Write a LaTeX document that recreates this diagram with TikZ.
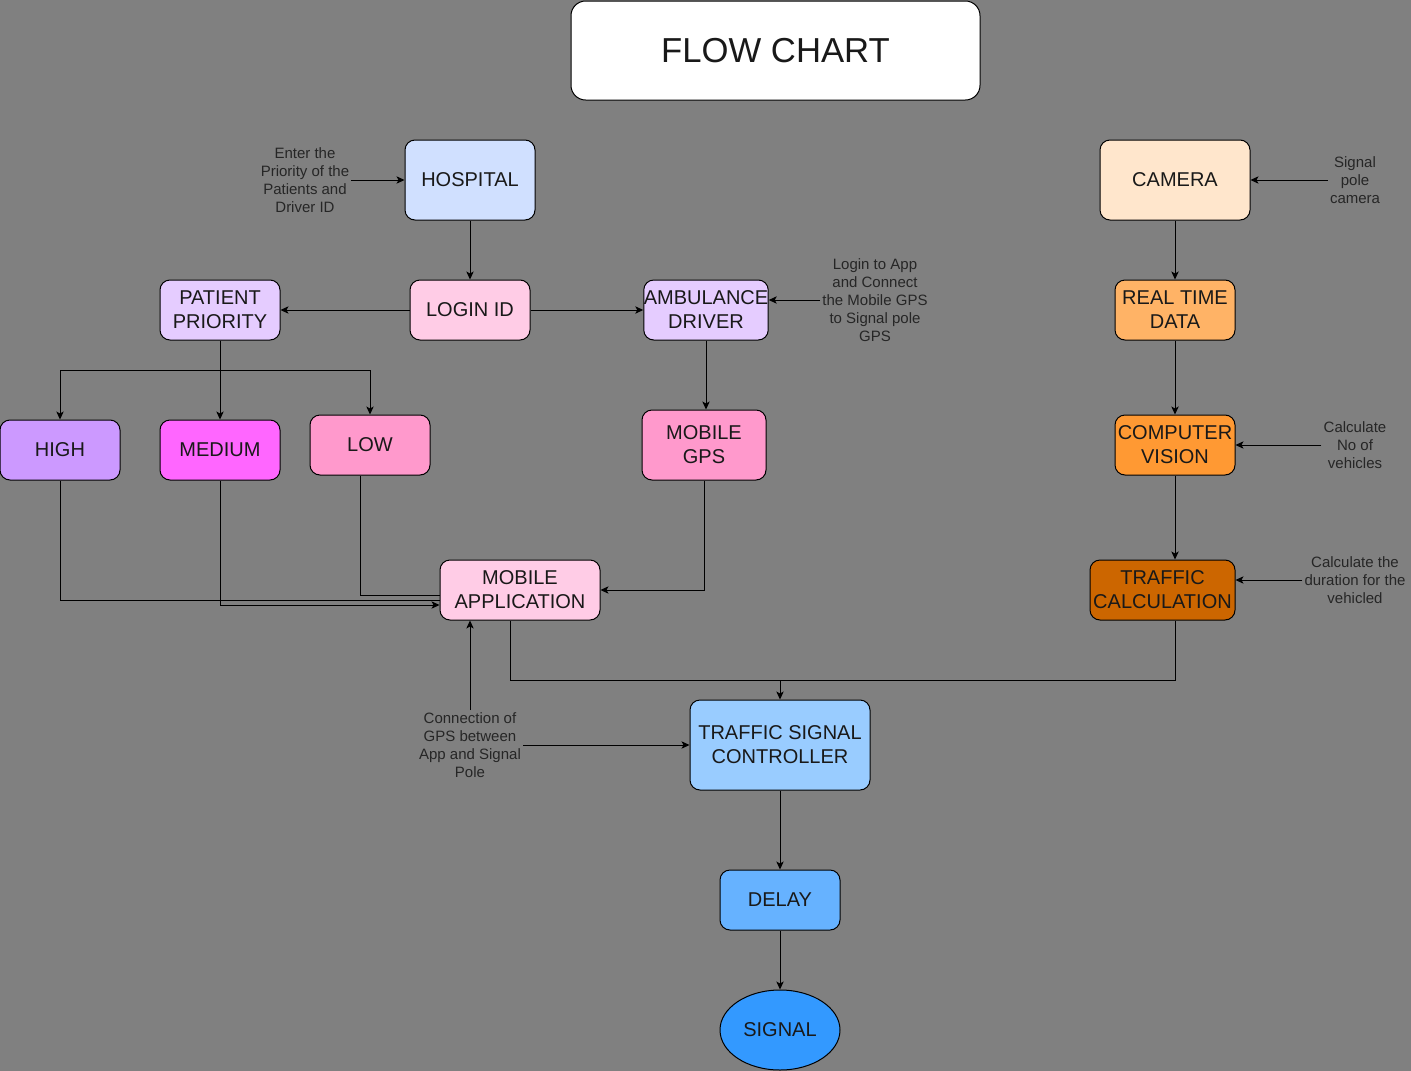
\documentclass[tikz,border=0pt]{standalone}
\usepackage{fontspec}
\setmainfont{Liberation Sans}
\usetikzlibrary{arrows.meta,shapes.geometric}

\definecolor{bggray}{HTML}{808080}
\definecolor{hospcol}{HTML}{D0E0FF}
\definecolor{logincol}{HTML}{FFCCE6}
\definecolor{lilac}{HTML}{E5CCFF}
\definecolor{camcol}{HTML}{FFE6CC}
\definecolor{rtcol}{HTML}{FFB366}
\definecolor{cvcol}{HTML}{FF9933}
\definecolor{tccol}{HTML}{CC6600}
\definecolor{highcol}{HTML}{CC99FF}
\definecolor{medcol}{HTML}{FF66FF}
\definecolor{lowcol}{HTML}{FF99CC}
\definecolor{tsccol}{HTML}{99CCFF}
\definecolor{delaycol}{HTML}{66B2FF}
\definecolor{sigcol}{HTML}{3399FF}

\begin{document}
\begin{tikzpicture}[
	x=0.75pt,
	y=-0.75pt,
	box/.style={
		rectangle,
		draw=black,
		line width=0.75pt,
		rounded corners=7.5pt,
		align=center,
		text=black!90,
		inner xsep=0pt,
		font=\fontsize{15pt}{18pt}\selectfont,
		minimum width=90pt,
		minimum height=45pt
	},
	note/.style={
		align=center,
		text=black!85,
		inner sep=1.5pt,
		font=\fontsize{11.25pt}{13.5pt}\selectfont
	},
	arr/.style={line width=0.75pt, -{Stealth[length=6pt, width=5.5pt, inset=1.5pt]}},
	link/.style={line width=0.75pt},
]

\fill[bggray] (0,0) rectangle (1411,1071);
\useasboundingbox (0,0) rectangle (1411,1071);

% Title
\node[box, fill=white, rounded corners=11pt, minimum width=306.75pt, minimum height=74.25pt,
	font=\fontsize{26pt}{31pt}\selectfont] (title) at (775.5,50.5) {FLOW CHART};

% Hospital side
\node[box, fill=hospcol, minimum width=97.5pt, minimum height=60pt] (hosp) at (470,180) {HOSPITAL};
\node[box, fill=logincol] (login) at (470,310) {LOGIN ID};
\node[box, fill=lilac] (prio) at (220,310) {PATIENT\\PRIORITY};
\node[box, fill=lilac] (amb) at (706,310) {AMBULANCE\\DRIVER};

\node[box, fill=highcol] (high) at (60,450) {HIGH};
\node[box, fill=medcol] (med) at (220,450) {MEDIUM};
\node[box, fill=lowcol] (low) at (370,445) {LOW};
\node[box, fill=lowcol, minimum width=93pt, minimum height=52.5pt] (gps) at (704,445) {MOBILE\\GPS};
\node[box, fill=logincol, minimum width=120pt] (app) at (520,590) {MOBILE\\APPLICATION};

% Camera side
\node[box, fill=camcol, minimum width=112.5pt, minimum height=60pt] (cam) at (1175,180) {CAMERA};
\node[box, fill=rtcol] (rt) at (1175,310) {REAL TIME\\DATA};
\node[box, fill=cvcol] (cv) at (1175,445) {COMPUTER\\VISION};
\node[box, fill=tccol, minimum width=108.75pt] (tcalc) at (1162.5,590) {TRAFFIC\\CALCULATION};

% Output
\node[box, fill=tsccol, minimum width=135pt, minimum height=67.5pt] (tsc) at (780,745) {TRAFFIC SIGNAL\\CONTROLLER};
\node[box, fill=delaycol] (delay) at (780,900) {DELAY};
\node[ellipse, draw=black, line width=0.75pt, fill=sigcol, text=black!90, inner sep=0pt,
	font=\fontsize{15pt}{18pt}\selectfont, minimum width=90pt, minimum height=60pt] (signal) at (780,1030) {SIGNAL};

% Notes
\node[note] (n_hosp) at (305,180) {Enter the\\Priority of the\\Patients and\\Driver ID};
\node[note] (n_amb) at (875,300) {Login to App\\and Connect\\the Mobile GPS\\to Signal pole\\GPS};
\node[note] (n_cam) at (1355,180) {Signal\\pole\\camera};
\node[note] (n_cv) at (1355,445) {Calculate\\No of\\vehicles};
\node[note] (n_tc) at (1355,580) {Calculate the\\duration for the\\vehicled};
\node[note] (n_gps) at (470,745) {Connection of\\GPS between\\App and Signal\\Pole};

\coordinate (join) at (780,680);

% Connectors
\draw[arr] (hosp) -- (login);
\draw[arr] (login) -- (prio);
\draw[arr] (login) -- (amb);
\draw[arr] (prio.south) -- ++(0,30) -| (high);
\draw[arr] (prio) -- (med);
\draw[arr] (prio.south) -- ++(0,30) -| (low);
\draw[arr] (amb.south) -- (amb.south |- gps.north);
\draw[arr] (gps.south) |- (app.east);
\draw[link] (high.south) |- ([yshift=-7.5pt]app.west);
\draw[arr] (med.south) |- ([yshift=-11.25pt]app.west);
\draw[link] ([xshift=-7.5pt]low.south) |- ([yshift=-3.75pt]app.west);

\draw[arr] (cam) -- (rt);
\draw[arr] (rt) -- (cv);
\draw[arr] (cv.south) -- (cv.south |- tcalc.north);

\draw[link] ([xshift=-7.5pt]app.south) |- (join);
\draw[link] ([xshift=9.375pt]tcalc.south) |- (join);
\draw[arr] (join) -- (tsc);
\draw[arr] (tsc) -- (delay);
\draw[arr] (delay) -- (signal);

\draw[arr] (n_hosp) -- (hosp);
\draw[arr] (n_amb.west) -- (amb.east |- n_amb.west);
\draw[arr] (n_cam) -- (cam);
\draw[arr] (n_cv) -- (cv);
\draw[arr] (n_tc.west) -- (tcalc.east |- n_tc.west);
\draw[arr] (n_gps) -- (tsc);
\draw[arr] (n_gps.north) -- (n_gps.north |- app.south);

\end{tikzpicture}
\end{document}
